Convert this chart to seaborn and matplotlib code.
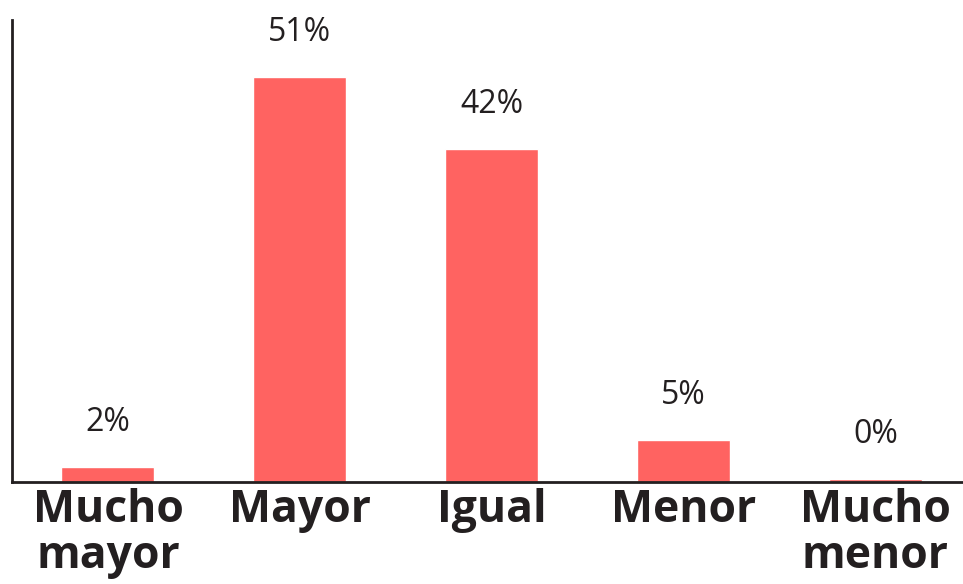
import matplotlib
matplotlib.use("Agg")
import matplotlib.pyplot as plt
import seaborn as sns
import pandas as pd

categories = ["Mucho\nmayor", "Mayor", "Igual", "Menor", "Mucho\nmenor"]
values = [1.9, 51.0, 42.0, 5.3, 0.4]
labels = ["2%", "51%", "42%", "5%", "0%"]

sns.set_style("white")
plt.rcParams["font.family"] = ["Open Sans", "DejaVu Sans"]

df = pd.DataFrame({"cat": categories, "val": values})

W, H = 963, 584
fig = plt.figure(figsize=(W / 100, H / 100), dpi=100)
ax = fig.add_axes([12 / W, (H - 482) / H, 1 - 12 / W + 0.0, 462 / H])

sns.barplot(data=df, x="cat", y="val", color="#FF6361", width=0.485,
            saturation=1, ax=ax)

ax.set_xlim(-0.5, 4.456)
ax.set_ylim(0, 58.2)
for i, (v, lab) in enumerate(zip(values, labels)):
    ax.annotate(lab, (i, v), xytext=(0, 32), textcoords="offset points",
                ha="center", va="center", fontsize=23, color="#231F20")

ax.set_xlabel("")
ax.set_ylabel("")
ax.set_yticks([])
ax.tick_params(axis="x", length=0, pad=4)
for t in ax.get_xticklabels():
    t.set_fontweight("bold")
    t.set_fontsize(32)
    t.set_color("#231F20")
    t.set_linespacing(1.05)
    t.set_va("top")

for s in ["top", "right"]:
    ax.spines[s].set_visible(False)
for s in ["left", "bottom"]:
    ax.spines[s].set_color("#231F20")
    ax.spines[s].set_linewidth(2)

fig.savefig("out.png", dpi=100)
